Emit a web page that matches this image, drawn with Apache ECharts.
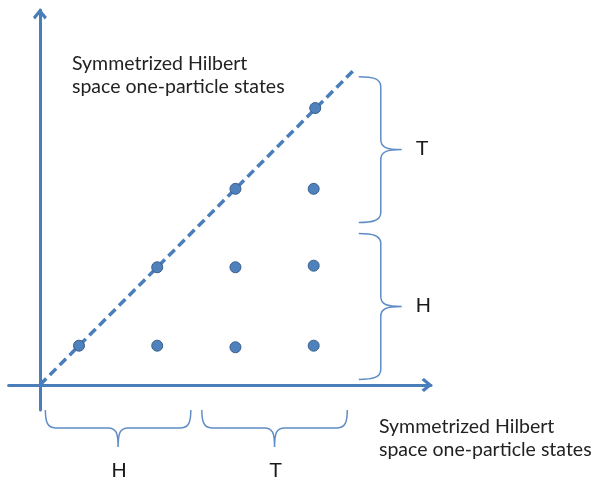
<!DOCTYPE html>
<html lang="en">
<head>
  <meta charset="utf-8">
  <title>Symmetrized Hilbert space one-particle states</title>
  <style>
    html, body { margin: 0; padding: 0; background: #fff; }
    #container { width: 595px; height: 479px; }
  </style>
</head>
<body>
  <div id="container"></div>

  <script type="text/javascript" src="https://fastly.jsdelivr.net/npm/echarts@6.0.0/dist/echarts.min.js"></script>
  <script type="text/javascript">
    // states (x = first particle, y = second particle)
    var stateX = [0.5, 1.5, 2.5, 3.5, 1.5, 2.5, 3.5, 2.5, 3.5, 3.52];
    var stateY = [0.5, 0.5, 0.48, 0.5, 1.5, 1.5, 1.52, 2.5, 2.5, 3.53];
    // diagonal (symmetrized) line
    var diagX = [0, 4];
    var diagY = [0, 4];
    // bands marked by braces
    var bandNames = ['H', 'T'];
    var bandStart = [0, 2];
    var bandEnd = [2, 4];
    var axisTitle = 'Symmetrized Hilbert\nspace one-particle states';

    var blue = '#4a7ebb';
    var braceBlue = '#5f8dc6';
    var inset = 5.5;

    var chartDom = document.getElementById('container');
    var myChart = echarts.init(chartDom);

    var bandData = bandStart.map(function (s, i) { return [s, bandEnd[i], i]; });

    function rightBrace(params, api) {
      var a = api.coord([0, api.value(0)]);
      var b = api.coord([0, api.value(1)]);
      var xb = api.coord([4, 0])[0] + 28;
      var y2 = a[1] - inset, y1 = b[1] + inset;
      var ym = (y1 + y2) / 2;
      var p = 'M' + (xb - 22) + ',' + y1 +
        ' C' + (xb - 8) + ',' + y1 + ' ' + xb + ',' + (y1 + 2) + ' ' + xb + ',' + (y1 + 10) +
        ' L' + xb + ',' + (ym - 10) +
        ' C' + xb + ',' + (ym - 2) + ' ' + (xb + 6) + ',' + ym + ' ' + (xb + 21) + ',' + ym +
        ' C' + (xb + 6) + ',' + ym + ' ' + xb + ',' + (ym + 2) + ' ' + xb + ',' + (ym + 10) +
        ' L' + xb + ',' + (y2 - 10) +
        ' C' + xb + ',' + (y2 - 2) + ' ' + (xb - 8) + ',' + y2 + ' ' + (xb - 22) + ',' + y2;
      return {
        type: 'group',
        children: [{
          type: 'path',
          shape: { pathData: p },
          style: { fill: 'none', stroke: braceBlue, lineWidth: 1.5 }
        }, {
          type: 'text',
          x: xb + 35, y: ym,
          style: {
            text: bandNames[api.value(2)], fill: '#1a1a1a',
            fontFamily: 'Liberation Sans', fontSize: 21,
            align: 'left', verticalAlign: 'middle'
          }
        }]
      };
    }

    function bottomBrace(params, api) {
      var a = api.coord([api.value(0), 0]);
      var b = api.coord([api.value(1), 0]);
      var yb = a[1] + 43;
      var x1 = a[0] + inset, x2 = b[0] - inset;
      var xm = (x1 + x2) / 2;
      var p = 'M' + x1 + ',' + (yb - 18) +
        ' C' + x1 + ',' + (yb - 6) + ' ' + (x1 + 2) + ',' + yb + ' ' + (x1 + 10) + ',' + yb +
        ' L' + (xm - 10) + ',' + yb +
        ' C' + (xm - 2) + ',' + yb + ' ' + xm + ',' + (yb + 5) + ' ' + xm + ',' + (yb + 19) +
        ' C' + xm + ',' + (yb + 5) + ' ' + (xm + 2) + ',' + yb + ' ' + (xm + 10) + ',' + yb +
        ' L' + (x2 - 10) + ',' + yb +
        ' C' + (x2 - 2) + ',' + yb + ' ' + x2 + ',' + (yb - 6) + ' ' + x2 + ',' + (yb - 18);
      return {
        type: 'group',
        children: [{
          type: 'path',
          shape: { pathData: p },
          style: { fill: 'none', stroke: braceBlue, lineWidth: 1.5 }
        }, {
          type: 'text',
          x: xm + 1, y: yb + 43,
          style: {
            text: bandNames[api.value(2)], fill: '#1a1a1a',
            fontFamily: 'Liberation Sans', fontSize: 21,
            align: 'center', verticalAlign: 'middle'
          }
        }]
      };
    }

    var arrow = 'path://M7,0 L14,8.5 L11.8,11 L7,5 L2.2,11 L0,8.5 Z';
    var axisLine = {
      onZero: true,
      symbol: ['none', arrow],
      symbolSize: [14, 11],
      symbolOffset: [0, -4],
      lineStyle: { color: blue, width: 3 }
    };

    var option = {
      animation: false,
      grid: { left: 8.6, right: 164, top: 10, bottom: 69 },
      xAxis: {
        type: 'value', min: -0.4, max: 5,
        axisLine: axisLine,
        axisTick: { show: false }, axisLabel: { show: false }, splitLine: { show: false }
      },
      yAxis: {
        type: 'value', min: -0.32, max: 4.78,
        axisLine: axisLine,
        axisTick: { show: false }, axisLabel: { show: false }, splitLine: { show: false }
      },
      graphic: [{
        type: 'text', left: 72, top: 52,
        style: { text: axisTitle, fill: '#222', font: '19.5px Lato', lineHeight: 23 }
      }, {
        type: 'text', left: 379, top: 415,
        style: { text: axisTitle, fill: '#222', font: '19.5px Lato', lineHeight: 23 }
      }],
      series: [{
        type: 'line',
        data: diagX.map(function (x, i) { return [x, diagY[i]]; }),
        showSymbol: false,
        lineStyle: { color: blue, width: 3.5, type: [9, 5] },
        z: 2
      }, {
        type: 'scatter',
        data: stateX.map(function (x, i) { return [x, stateY[i]]; }),
        symbolSize: 11,
        itemStyle: { color: '#4f81bd', borderColor: '#385d8a', borderWidth: 1, opacity: 1 },
        z: 3
      }, {
        type: 'custom',
        data: bandData,
        renderItem: rightBrace,
        clip: false,
        z: 1
      }, {
        type: 'custom',
        data: bandData,
        renderItem: bottomBrace,
        clip: false,
        z: 1
      }]
    };

    myChart.setOption(option);
  </script>
</body>
</html>
